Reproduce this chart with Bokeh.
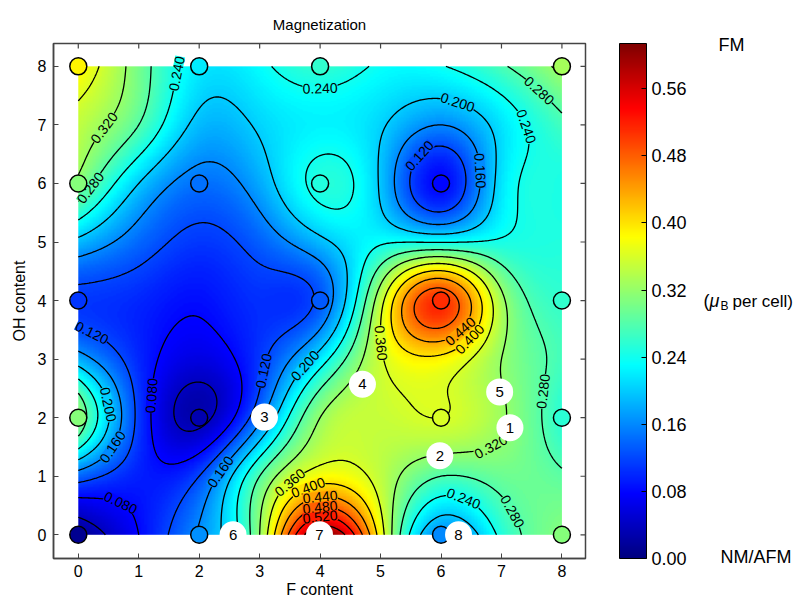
import numpy as np
from bokeh.plotting import figure
from bokeh.models import (LinearColorMapper, ColorBar, FixedTicker,
                          ColumnDataSource, Range1d, PrintfTickFormatter)
from bokeh.core.properties import value, field
from bokeh.embed import file_html
from bokeh.resources import INLINE
from bokeh.plotting.contour import contour_data

# ---------------- data (magnetization, muB per cell) read on a 1x1 grid ----------------
f_content = [0, 1, 2, 3, 4, 5, 6, 7, 8]
oh_content = [0, 1, 2, 3, 4, 5, 6, 7, 8]
mag_oh0 = [0.01, 0.08, 0.165, 0.32, 0.60, 0.38, 0.16, 0.25, 0.31]
mag_oh1 = [0.14, 0.095, 0.12, 0.28, 0.38, 0.345, 0.28, 0.295, 0.285]
mag_oh2 = [0.31, 0.11, 0.03, 0.15, 0.32, 0.35, 0.36, 0.325, 0.255]
mag_oh3 = [0.18, 0.10, 0.06, 0.11, 0.22, 0.355, 0.39, 0.32, 0.27]
mag_oh4 = [0.11, 0.10, 0.085, 0.105, 0.13, 0.345, 0.51, 0.33, 0.26]
mag_oh5 = [0.19, 0.14, 0.11, 0.135, 0.19, 0.235, 0.238, 0.245, 0.25]
mag_oh6 = [0.31, 0.20, 0.145, 0.18, 0.25, 0.195, 0.08, 0.215, 0.245]
mag_oh7 = [0.345, 0.28, 0.19, 0.205, 0.225, 0.205, 0.16, 0.215, 0.27]
mag_oh8 = [0.39, 0.30, 0.22, 0.232, 0.26, 0.235, 0.238, 0.275, 0.33]

# computed compositions (circles)
sample_f = [0, 2, 4, 6, 8, 0, 2, 6, 8, 0, 4, 6, 8, 0, 2, 4, 6, 0, 2, 4, 8]
sample_oh = [0, 0, 0, 0, 0, 2, 2, 2, 2, 4, 4, 4, 4, 6, 6, 6, 6, 8, 8, 8, 8]

# numbered compositions
comp_f = [7.14, 5.98, 3.08, 4.70, 6.97, 2.56, 3.99, 6.29]
comp_oh = [1.83, 1.35, 2.01, 2.57, 2.44, 0.0, 0.0, 0.0]
comp_id = ["1", "2", "3", "4", "5", "6", "7", "8"]

# contour label hints (level, approx position)
clabel_level = [0.24, 0.32, 0.28, 0.24, 0.20, 0.12, 0.16, 0.28, 0.24, 0.12, 0.20, 0.16,
                0.08, 0.08, 0.12, 0.20, 0.16, 0.36, 0.40, 0.44, 0.48, 0.52, 0.36, 0.44,
                0.40, 0.32, 0.28, 0.24, 0.28]
clabel_x = [1.64, 0.42, 0.31, 4.0, 6.27, 5.72, 6.77, 7.59, 7.43, 0.31, 0.45, 0.48,
            0.73, 1.28, 3.10, 3.87, 2.41, 3.46, 3.78, 4.0, 4.0, 4.0, 5.19, 6.27,
            6.57, 6.66, 7.76, 6.38, 7.62]
clabel_y = [7.87, 6.96, 5.85, 7.72, 7.36, 6.39, 6.22, 7.56, 6.99, 3.66, 2.21, 1.55,
            0.59, 2.38, 2.78, 2.78, 1.04, 0.93, 0.88, 0.72, 0.53, 0.33, 3.29, 3.52,
            3.23, 1.84, 2.44, 0.64, 0.64]

cbar_ticks = [0.00, 0.08, 0.16, 0.24, 0.32, 0.40, 0.48, 0.56]
axis_ticks = [0, 1, 2, 3, 4, 5, 6, 7, 8]
VMAX = 0.614

FONT = "Liberation Sans"

# ---------------- helpers ----------------
def jet_rgb(t):
    t = np.clip(t, 0, 1)
    r = np.clip(1.5 - np.abs(4 * t - 3), 0, 1)
    g = np.clip(1.5 - np.abs(4 * t - 2), 0, 1)
    b = np.clip(1.5 - np.abs(4 * t - 1), 0, 1)
    return r, g, b

def to_hex(r, g, b):
    return "#%02x%02x%02x" % (int(round(r * 255)), int(round(g * 255)), int(round(b * 255)))

JET = [to_hex(*jet_rgb(i / 255.0)) for i in range(256)]

def spline_matrix(knots, t):
    """natural cubic spline (unit knot spacing) as a linear map knots -> t"""
    n = len(knots)
    t = np.asarray(t, float) - knots[0]
    M = np.zeros((len(t), n))
    A = np.zeros((n, n))
    A[0, 0] = 1
    A[-1, -1] = 1
    for i in range(1, n - 1):
        A[i, i - 1] = 1
        A[i, i] = 4
        A[i, i + 1] = 1
    idx = np.clip(np.floor(t).astype(int), 0, n - 2)
    u = t - idx
    for j in range(n):
        f = np.zeros(n)
        f[j] = 1.0
        r = np.zeros(n)
        r[1:-1] = 6 * (f[:-2] - 2 * f[1:-1] + f[2:])
        m = np.linalg.solve(A, r)
        M[:, j] = ((1 - u) * f[idx] + u * f[idx + 1]
                   + ((1 - u) ** 3 - (1 - u)) * m[idx] / 6 + (u ** 3 - u) * m[idx + 1] / 6)
    return M

G = np.array([mag_oh0, mag_oh1, mag_oh2, mag_oh3, mag_oh4, mag_oh5, mag_oh6, mag_oh7, mag_oh8])
xf = np.linspace(f_content[0], f_content[-1], 321)
yf = np.linspace(oh_content[0], oh_content[-1], 321)
Z = spline_matrix(oh_content, yf) @ G @ spline_matrix(f_content, xf).T

# ---------------- main figure ----------------
X0, X1, Y0, Y1 = -0.41, 8.39, -0.405, 8.39
W, H = 796, 602
FL, FT, FW, FH = 53, 43, 532, 515
p = figure(width=W, height=H, x_range=Range1d(X0, X1), y_range=Range1d(Y0, Y1),
           output_backend="svg", toolbar_location=None,
           min_border_left=FL, min_border_right=W - FL - FW, min_border_top=FT,
           min_border_bottom=H - FT - FH, title="Magnetization")
p.title.align = "center"
p.title.text_font = FONT
p.title.text_font_size = "15px"
p.title.text_font_style = "normal"
p.title.text_color = "black"
p.title.standoff = 22
p.xgrid.visible = False
p.ygrid.visible = False
p.outline_line_color = "#444444"
p.outline_line_width = 1.5

SX = FW / (X1 - X0)
SY = FH / (Y1 - Y0)

mapper = LinearColorMapper(palette=JET, low=0.0, high=VMAX)
p.image(image=[Z], x=xf[0], y=yf[0], dw=xf[-1] - xf[0], dh=yf[-1] - yf[0], color_mapper=mapper)

levels = [round(0.04 * k, 2) for k in range(1, 16)]
cd = contour_data(xf, yf, Z, levels, want_fill=False, want_line=True)
ld = cd.line_data
p.multi_line(xs=ld.xs, ys=ld.ys, line_color="black", line_width=1.3)

# contour labels snapped onto computed contour lines
lx, ly, lt, la, lbg = [], [], [], [], []
lev_arr = np.asarray(ld.levels, float)
for lev, hx, hy in zip(clabel_level, clabel_x, clabel_y):
    k = int(np.argmin(np.abs(lev_arr - lev)))
    xs = np.asarray(ld.xs[k], float)
    ys = np.asarray(ld.ys[k], float)
    if xs.size == 0:
        continue
    ok = ~np.isnan(xs)
    d = np.where(ok, ((xs - hx) * SX) ** 2 + ((ys - hy) * SY) ** 2, np.inf)
    i = int(np.argmin(d))
    i0 = i
    while i0 > 0 and i - i0 < 6 and not np.isnan(xs[i0 - 1]):
        i0 -= 1
    i1 = i
    while i1 < len(xs) - 1 and i1 - i < 6 and not np.isnan(xs[i1 + 1]):
        i1 += 1
    ang = np.arctan2((ys[i1] - ys[i0]) * SY, (xs[i1] - xs[i0]) * SX)
    if ang > np.pi / 2:
        ang -= np.pi
    if ang < -np.pi / 2:
        ang += np.pi
    lx.append(xs[i]); ly.append(ys[i]); lt.append("%.3f" % lev); la.append(float(ang))
    lbg.append(to_hex(*jet_rgb(lev / VMAX)))
lsrc = ColumnDataSource(dict(x=lx, y=ly, text=lt, angle=la, bg=lbg))
p.text(x="x", y="y", text="text", angle="angle", source=lsrc,
       text_font=value(FONT), text_font_size="14px", text_color="black",
       text_align="center", text_baseline="middle",
       background_fill_color=field("bg"))

# sample circles
lookup = {(fx, oy): G[oy, fx] for fx in f_content for oy in oh_content}
ssrc = ColumnDataSource(dict(x=sample_f, y=sample_oh,
                             m=[float(lookup[(a, b)]) for a, b in zip(sample_f, sample_oh)]))
p.scatter(x="x", y="y", source=ssrc, size=17, line_color="black", line_width=1.5,
          fill_color={"field": "m", "transform": mapper})

# numbered compositions
csrc = ColumnDataSource(dict(x=comp_f, y=comp_oh, t=comp_id))
p.scatter(x="x", y="y", source=csrc, size=27, fill_color="white", line_color=None)
p.text(x="x", y="y", text="t", source=csrc, text_font=value(FONT), text_font_size="15px",
       text_align="center", text_baseline="middle", text_color="black")

# inward ticks on top and right sides of the frame
tick_top = [Y1] * len(axis_ticks)
tick_right = [X1] * len(axis_ticks)
p.segment(x0=axis_ticks, y0=tick_top, x1=axis_ticks, y1=[Y1 - 5 / SY] * len(axis_ticks),
          line_color="#444444", line_width=1.2)
p.segment(x0=tick_right, y0=axis_ticks, x1=[X1 - 5 / SX] * len(axis_ticks), y1=axis_ticks,
          line_color="#444444", line_width=1.2)

# axes
for ax in (p.xaxis[0], p.yaxis[0]):
    ax.ticker = FixedTicker(ticks=axis_ticks)
    ax.major_tick_in = 5
    ax.major_tick_out = 0
    ax.minor_tick_line_color = None
    ax.axis_line_color = "#444444"
    ax.axis_line_width = 1.5
    ax.major_tick_line_color = "#444444"
    ax.major_label_text_font = FONT
    ax.major_label_text_font_size = "16px"
    ax.major_label_text_color = "black"
    ax.major_label_standoff = 7
    ax.axis_label_text_font = FONT
    ax.axis_label_text_font_size = "16px"
    ax.axis_label_text_font_style = "normal"
    ax.axis_label_text_color = "black"
p.yaxis.axis_label = "OH content"
p.yaxis.axis_label_standoff = 7
p.xaxis.axis_label = "F content"
p.xaxis.axis_label_standoff = 1
p.xaxis.major_label_standoff = 6

# colorbar
cb = ColorBar(color_mapper=mapper, ticker=FixedTicker(ticks=cbar_ticks),
              formatter=PrintfTickFormatter(format="%.2f"),
              width=27, height=FH, location=(566, 0), padding=0, margin=0,
              bar_line_color="black", bar_line_width=1,
              major_tick_line_color="black", major_tick_in=5, major_tick_out=0,
              minor_tick_line_color=None,
              major_label_text_font=FONT, major_label_text_font_size="18px",
              major_label_text_color="black",
              label_standoff=5, background_fill_alpha=0, border_line_color=None)
p.add_layout(cb, "center")

# captions beside the colour bar (drawn as tick labels of invisible colour bars)
def caption(x_left, y_mid, text, size="18px", style="normal"):
    v = round((FT + FH - y_mid) / FH * VMAX, 6)
    c = ColorBar(color_mapper=mapper, ticker=FixedTicker(ticks=[v]),
                 major_label_overrides={v: text},
                 width=1, height=FH, location=(x_left - FL - 1, 0), padding=0, margin=0,
                 scale_alpha=0, bar_line_color=None, major_tick_line_color=None,
                 minor_tick_line_color=None,
                 major_label_text_font=FONT, major_label_text_font_size=size,
                 major_label_text_font_style=style, major_label_text_color="black",
                 label_standoff=0, background_fill_alpha=0, border_line_color=None)
    p.add_layout(c, "center")

caption(718, 45, "FM")
caption(703, 301, "(")
caption(709, 301, "μ", style="italic")
caption(720, 306, "B", size="12px")
caption(732, 301, "per cell)", size="17px")
caption(720, 556, "NM/AFM")

open("out.html", "w").write(file_html(p, INLINE))
